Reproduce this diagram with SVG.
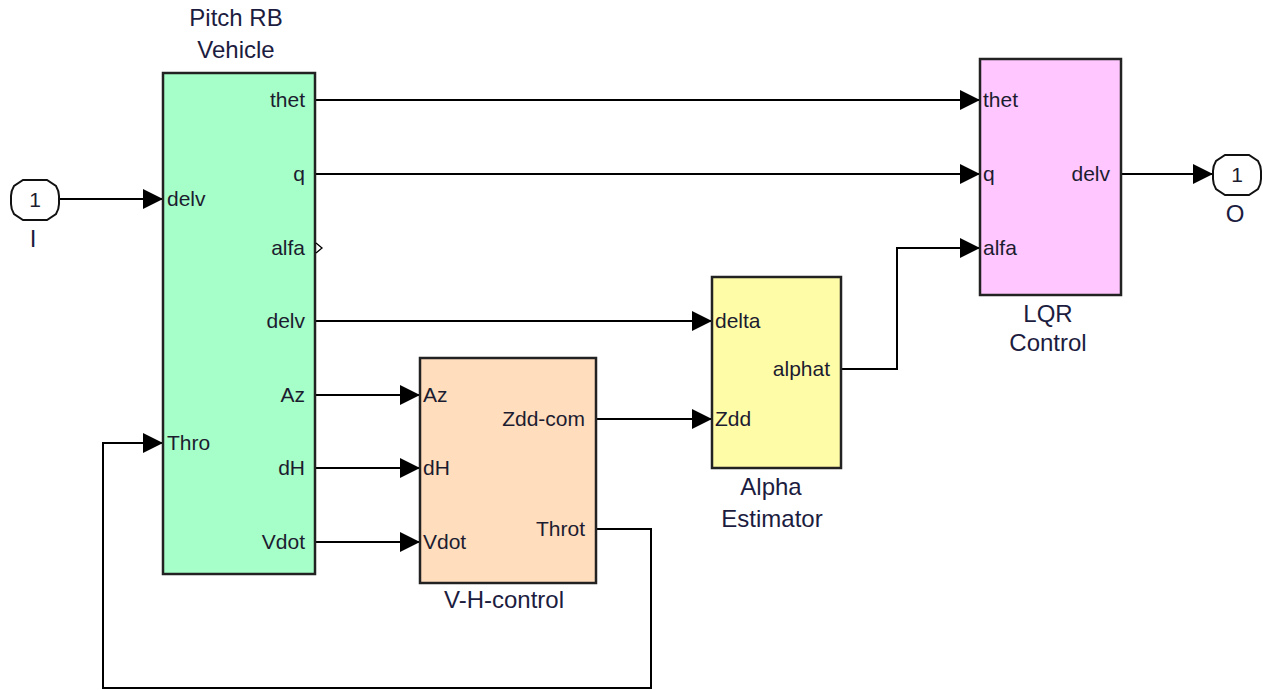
<svg xmlns="http://www.w3.org/2000/svg" width="1263" height="690" viewBox="0 0 1263 690">
<defs>
<marker id="arr" markerUnits="userSpaceOnUse" markerWidth="22" markerHeight="22" refX="20" refY="10" orient="auto">
<path d="M0,0 L20,10 L0,20 Z" fill="#000"/>
</marker>
<path id="oct" d="M12,0 H36 L45,6 Q48,11 48,16 V24 Q48,29 45,34 L36,40 H12 L3,34 Q0,29 0,24 V16 Q0,11 3,6 Z"/>
<style>
.blk{stroke:#222;stroke-width:2.5}
.port{font-family:"Liberation Sans",Arial,sans-serif;font-size:21px;fill:#1c1c30}
.name{font-family:"Liberation Sans",Arial,sans-serif;font-size:24px;fill:#1c1c40;text-anchor:middle}
.io{fill:#fff;stroke:#111;stroke-width:2}
.con{fill:none;stroke:#000;stroke-width:2}
.end{text-anchor:end}
</style>
</defs>
<rect width="1263" height="690" fill="#fff"/>
<g id="connectors">
<line class="con" x1="59" y1="199" x2="163" y2="199" marker-end="url(#arr)"/>
<line class="con" x1="315" y1="100" x2="980" y2="100" marker-end="url(#arr)"/>
<line class="con" x1="315" y1="174" x2="980" y2="174" marker-end="url(#arr)"/>
<line class="con" x1="315" y1="321" x2="712" y2="321" marker-end="url(#arr)"/>
<line class="con" x1="315" y1="395" x2="420" y2="395" marker-end="url(#arr)"/>
<line class="con" x1="315" y1="468" x2="420" y2="468" marker-end="url(#arr)"/>
<line class="con" x1="315" y1="542" x2="420" y2="542" marker-end="url(#arr)"/>
<line class="con" x1="596" y1="419" x2="712" y2="419" marker-end="url(#arr)"/>
<polyline class="con" points="841,369 897,369 897,248 980,248" marker-end="url(#arr)"/>
<line class="con" x1="1121" y1="174" x2="1213" y2="174" marker-end="url(#arr)"/>
<polyline class="con" points="596,529 651,529 651,688 103,688 103,443 163,443" marker-end="url(#arr)"/>
</g>
<g id="inport">
<use href="#oct" class="io" x="11" y="180"/>
<text class="port" x="35" y="207" text-anchor="middle" font-size="19">1</text>
<text class="name" x="33" y="247" fill="#3a1050">I</text>
</g>
<g id="pitch">
<rect class="blk" x="163" y="73" width="152" height="501" fill="#A6FFC8"/>
<text class="name" x="236" y="26">Pitch RB</text>
<text class="name" x="236" y="58">Vehicle</text>
<text class="port" x="167" y="206">delv</text>
<text class="port" x="167" y="450">Thro</text>
<text class="port end" x="305" y="107">thet</text>
<text class="port end" x="305" y="181">q</text>
<text class="port end" x="305" y="255">alfa</text>
<text class="port end" x="305" y="328">delv</text>
<text class="port end" x="305" y="402">Az</text>
<text class="port end" x="305" y="475">dH</text>
<text class="port end" x="305" y="549">Vdot</text>
<polyline points="316,243 322,248 316,253" fill="none" stroke="#000" stroke-width="1.3"/>
</g>
<g id="vh">
<rect class="blk" x="420" y="358" width="176" height="225" fill="#FFDDBD"/>
<text class="port" x="423" y="402">Az</text>
<text class="port" x="423" y="475">dH</text>
<text class="port" x="423" y="549">Vdot</text>
<text class="port end" x="585" y="426">Zdd-com</text>
<text class="port end" x="585" y="536">Throt</text>
<text class="name" x="504" y="608">V-H-control</text>
</g>
<g id="alpha">
<rect class="blk" x="712" y="277" width="129" height="191" fill="#FFFCA8"/>
<text class="port" x="715" y="328">delta</text>
<text class="port" x="715" y="426">Zdd</text>
<text class="port end" x="830" y="376">alphat</text>
<text class="name" x="771" y="495">Alpha</text>
<text class="name" x="772" y="527">Estimator</text>
</g>
<g id="lqr">
<rect class="blk" x="980" y="59" width="141" height="236" fill="#FFC6FF"/>
<text class="port" x="983" y="107">thet</text>
<text class="port" x="983" y="181">q</text>
<text class="port" x="983" y="255">alfa</text>
<text class="port end" x="1110" y="181">delv</text>
<text class="name" x="1048" y="322">LQR</text>
<text class="name" x="1048" y="351">Control</text>
</g>
<g id="outport">
<use href="#oct" class="io" x="1213" y="155"/>
<text class="port" x="1237" y="182" text-anchor="middle" font-size="19">1</text>
<text class="name" x="1235" y="222">O</text>
</g>
</svg>
